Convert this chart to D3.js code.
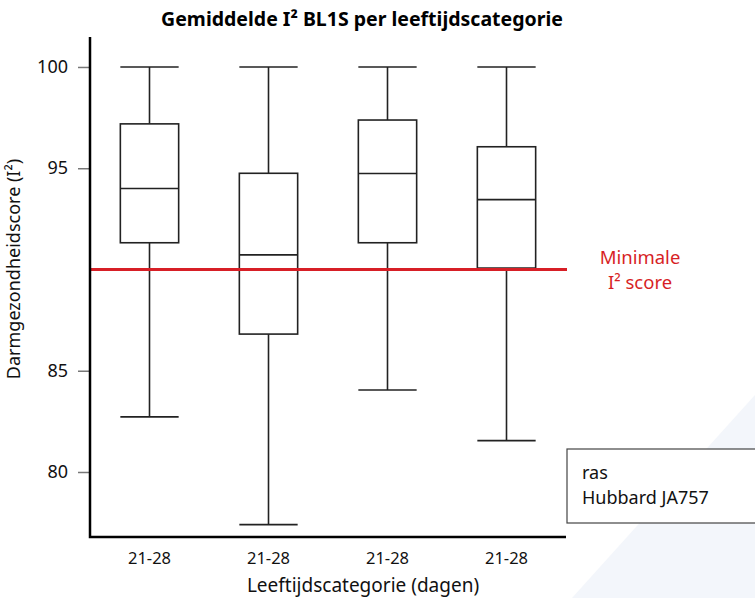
<!DOCTYPE html>
<html>
<head>
<meta charset="utf-8">
<script src="https://cdn.jsdelivr.net/npm/d3@7"></script>
<style>
  body { margin: 0; background: #fff; }
  svg { display: block; }
  text { font-family: "Noto Sans", "Open Sans", sans-serif; }
</style>
</head>
<body>
<svg id="chart" width="755" height="598"></svg>
<script>
// categories (all groups are labelled 21-28 in the original)
const categories = ['21-28', '21-28', '21-28', '21-28'];
// box plot stats
const whiskerMax = [100, 100, 100, 100];
const q3Values   = [97.19, 94.75, 97.38, 96.06];
const medians    = [94.0, 90.72, 94.74, 93.45];
const q1Values   = [91.32, 86.81, 91.32, 90.07];
const whiskerMin = [82.72, 77.4, 84.05, 81.55];
const yTicks = [80, 85, 95, 100];
const threshold = 90;
const legendLines = ['ras', 'Hubbard JA757'];

const svg = d3.select('#chart');

// faint decoration bottom right
svg.append('path')
  .attr('d', 'M755,395 L755,598 L572,598 Z')
  .attr('fill', '#f3f6fb');

const m = { left: 90, right: 566, top: 37, bottom: 537 };

const x = d3.scaleBand()
  .domain(d3.range(categories.length))
  .range([m.left, m.right]);

const y = d3.scaleLinear()
  .domain([76.79, 101.48])
  .range([m.bottom, m.top]);

const data = categories.map((c, i) => ({
  i: i, max: whiskerMax[i], q3: q3Values[i], med: medians[i], q1: q1Values[i], min: whiskerMin[i]
}));

const boxW = x.bandwidth() * 0.49;

// title
svg.append('text')
  .attr('x', 362).attr('y', 26)
  .attr('text-anchor', 'middle')
  .attr('font-size', 19.5).attr('font-weight', 'bold')
  .text('Gemiddelde I² BL1S per leeftijdscategorie');

// y ticks
const gY = svg.append('g')
  .attr('transform', 'translate(' + m.left + ',0)')
  .call(d3.axisLeft(y).tickValues(yTicks).tickSize(12).tickPadding(10));
gY.select('.domain').remove();
gY.selectAll('.tick line').attr('stroke', '#777').attr('stroke-width', 1.5);
gY.selectAll('.tick text').attr('font-size', 18).attr('fill', '#111')
  .style('font-family', '"Noto Sans", sans-serif');

// x labels
const gX = svg.append('g')
  .attr('transform', 'translate(0,' + m.bottom + ')')
  .call(d3.axisBottom(x).tickSize(0).tickPadding(15).tickFormat(i => categories[i]));
gX.select('.domain').remove();
gX.selectAll('.tick text').attr('font-size', 16.5).attr('fill', '#111')
  .style('font-family', '"Noto Sans", sans-serif');

// boxes
const g = svg.append('g').attr('stroke', '#222').attr('stroke-width', 1.6).attr('fill', 'none');
const box = g.selectAll('g.box').data(data).enter().append('g').attr('class', 'box');
const cx = d => x(d.i) + x.bandwidth() / 2;

box.append('line')
  .attr('x1', cx).attr('x2', cx)
  .attr('y1', d => y(d.max)).attr('y2', d => y(d.q3));
box.append('line')
  .attr('x1', cx).attr('x2', cx)
  .attr('y1', d => y(d.q1)).attr('y2', d => y(d.min));
box.append('line')
  .attr('x1', d => cx(d) - boxW / 2).attr('x2', d => cx(d) + boxW / 2)
  .attr('y1', d => y(d.max)).attr('y2', d => y(d.max));
box.append('line')
  .attr('x1', d => cx(d) - boxW / 2).attr('x2', d => cx(d) + boxW / 2)
  .attr('y1', d => y(d.min)).attr('y2', d => y(d.min));
box.append('rect')
  .attr('x', d => cx(d) - boxW / 2).attr('width', boxW)
  .attr('y', d => y(d.q3)).attr('height', d => y(d.q1) - y(d.q3))
  .attr('fill', '#fff');
box.append('line')
  .attr('x1', d => cx(d) - boxW / 2).attr('x2', d => cx(d) + boxW / 2)
  .attr('y1', d => y(d.med)).attr('y2', d => y(d.med));

// threshold line
svg.append('line')
  .attr('x1', m.left).attr('x2', m.right + 1)
  .attr('y1', y(threshold)).attr('y2', y(threshold))
  .attr('stroke', '#d71f26').attr('stroke-width', 3);

svg.append('text')
  .attr('x', 640).attr('y', 264)
  .attr('text-anchor', 'middle').attr('font-size', 18.5).attr('fill', '#d71f26')
  .text('Minimale');
svg.append('text')
  .attr('x', 640).attr('y', 289)
  .attr('text-anchor', 'middle').attr('font-size', 18.5).attr('fill', '#d71f26')
  .text('I² score');

// axes lines
svg.append('path')
  .attr('d', 'M' + m.left + ',' + m.top + ' L' + m.left + ',' + m.bottom + ' L' + m.right + ',' + m.bottom)
  .attr('fill', 'none').attr('stroke', '#000').attr('stroke-width', 2.5);

// axis titles
svg.append('text')
  .attr('transform', 'translate(20,269) rotate(-90)')
  .attr('text-anchor', 'middle').attr('font-size', 18).attr('fill', '#111')
  .text('Darmgezondheidscore (I²)');
svg.append('text')
  .attr('x', 363).attr('y', 592)
  .attr('text-anchor', 'middle').attr('font-size', 19).attr('fill', '#111')
  .text('Leeftijdscategorie (dagen)');

// legend box
svg.append('rect')
  .attr('x', 567).attr('y', 449).attr('width', 200).attr('height', 74)
  .attr('fill', '#fff').attr('stroke', '#444').attr('stroke-width', 1.2);
svg.selectAll('text.leg').data(legendLines).enter().append('text')
  .attr('class', 'leg')
  .attr('x', 582).attr('y', (d, i) => 479 + i * 25)
  .attr('font-size', 18).attr('fill', '#111')
  .text(d => d);
</script>
</body>
</html>
